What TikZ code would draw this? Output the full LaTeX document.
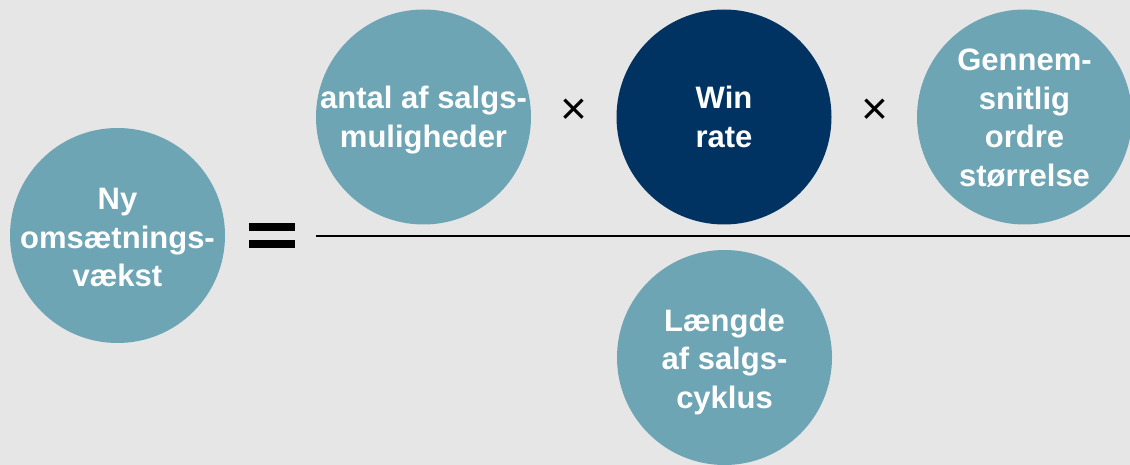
\documentclass[tikz,border=0pt]{standalone}
\usepackage{fontspec}
\setmainfont{Liberation Sans}
\definecolor{bg}{HTML}{E6E6E6}
\definecolor{tealc}{HTML}{6DA5B5}
\definecolor{navy}{HTML}{003361}
\begin{document}
\begin{tikzpicture}[x=1pt,y=-1pt,
  ball/.style={circle, minimum size=215pt, inner sep=0pt, fill=tealc},
  lbl/.style={text=white, font=\fontsize{31}{38.5}\selectfont\bfseries, align=center, inner sep=0pt},
  op/.style={font=\fontsize{46}{46}\selectfont, inner sep=0pt, text=black},
  bar/.style={fill=black}]
\fill[bg] (0,0) rectangle (1130,465);
\useasboundingbox (0,0) rectangle (1130,465);
\clip (0,0) rectangle (1130,465);

% left-hand side
\node[ball] (rev) at (117.5,235.5) {};
\node[lbl, yshift=-2pt] at (rev) {Ny\\omsætnings-\\vækst};

% equals sign
\fill[bar] (249,223) rectangle (295,231);
\fill[bar] (249,240) rectangle (295,248);

% numerator
\node[ball] (opp) at (423.5,117) {};
\node[lbl, yshift=-3pt] at (opp) {antal af salgs-\\muligheder};
\node[op] (x1) at (574,112) {×};
\node[ball, fill=navy] (win) at (724,117) {};
\node[lbl] at (win) {Win\\rate};
\node[op] (x2) at (874.5,112) {×};
\node[ball] (deal) at (1024.5,117) {};
\node[lbl, yshift=-1pt] at (deal) {Gennem-\\snitlig\\ordre\\størrelse};

% fraction bar
\coordinate (barL) at (316,236);
\coordinate (barR) at (1130,236);
\draw[line width=2pt] (barL) -- (barR);

% denominator
\node[ball] (cycle) at (724.5,357.5) {};
\node[lbl, yshift=-4pt] at (cycle) {Længde\\af salgs-\\cyklus};
\end{tikzpicture}
\end{document}
